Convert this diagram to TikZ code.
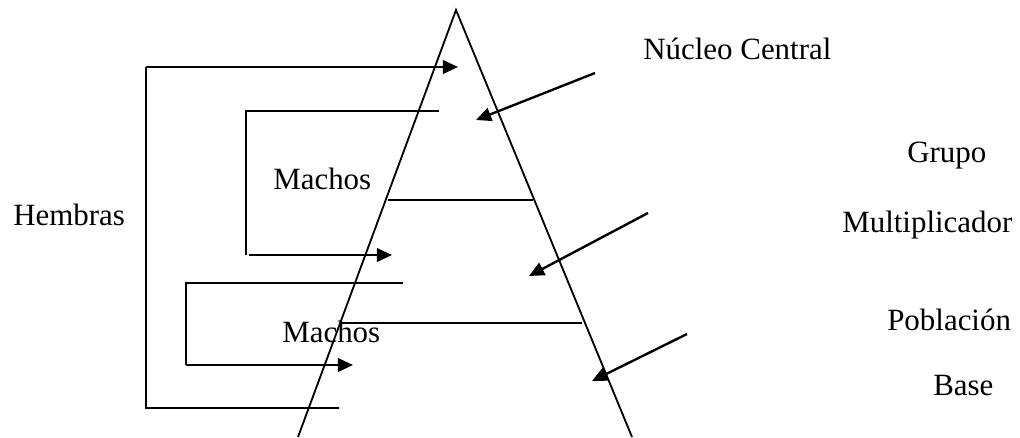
\documentclass[tikz,border=0pt]{standalone}
\usepackage{fontspec}
\setmainfont{Liberation Serif}
\usetikzlibrary{arrows.meta}

\begin{document}
\begin{tikzpicture}[x=0.025cm,y=-0.025cm,
  txt/.style={anchor=base west, inner sep=0pt, font=\fontsize{22}{26}\selectfont},
  side/.style={line width=1.3pt},
  tier/.style={line width=1.4pt},
  feed/.style={line width=1.4pt},
  arr/.style={-{Triangle[length=0.38cm,width=0.34cm]}, line width=1.7pt}]
  \useasboundingbox (0,0) rectangle (1020,437);

  % pyramid
  \coordinate (apex) at (456,10);
  \coordinate (baseL) at (298,437);
  \coordinate (baseR) at (632,437);
  \draw[side] (baseL) -- (apex) -- (baseR);
  \coordinate (tierAL) at (388,200);
  \coordinate (tierAR) at (533,200);
  \coordinate (tierBL) at (340,323);
  \coordinate (tierBR) at (582,323);
  \draw[tier] (tierAL) -- (tierAR);
  \draw[tier] (tierBL) -- (tierBR);

  % level names
  \node[txt] (nucleo) at (643,59) {Núcleo Central};
  \node[txt] (grupo) at (907,162) {Grupo};
  \node[txt] (multi) at (842,232) {Multiplicador};
  \node[txt] (pobla) at (887,330) {Población};
  \node[txt] (base) at (933,395) {Base};
  \node[txt] (hembras) at (13,225) {Hembras};
  \node[txt] (machosA) at (273,189) {Machos};
  \node[txt] (machosB) at (282,342) {Machos};

  % hembras
  \coordinate (hemA) at (339,408);
  \coordinate (hemB) at (146,408);
  \coordinate (hemC) at (146,67);
  \coordinate (hemD) at (458,67);
  \draw[feed] (hemA) -- (hemB) -- (hemC);
  \draw[arr] (hemC) -- (hemD);

  % machos to the multiplier
  \coordinate (macA1) at (439,111);
  \coordinate (macA2) at (246,111);
  \coordinate (macA3) at (246,255);
  \coordinate (macA4) at (249,255);
  \coordinate (macA5) at (392,255);
  \draw[feed] (macA1) -- (macA2) -- (macA3);
  \draw[arr] (macA4) -- (macA5);

  % machos to the base
  \coordinate (macB1) at (403,283);
  \coordinate (macB2) at (186,283);
  \coordinate (macB3) at (186,365);
  \coordinate (macB4) at (353,365);
  \draw[feed] (macB1) -- (macB2) -- (macB3);
  \draw[arr] (macB3) -- (macB4);

  % pointers into the levels
  \coordinate (ptrA) at (595,73);
  \coordinate (ptrB) at (648,213);
  \coordinate (ptrC) at (687,334);
  \coordinate (inA) at (476,120);
  \coordinate (inB) at (529,276);
  \coordinate (inC) at (592,381);
  \draw[arr] (ptrA) -- (inA);
  \draw[arr] (ptrB) -- (inB);
  \draw[arr] (ptrC) -- (inC);
\end{tikzpicture}
\end{document}
